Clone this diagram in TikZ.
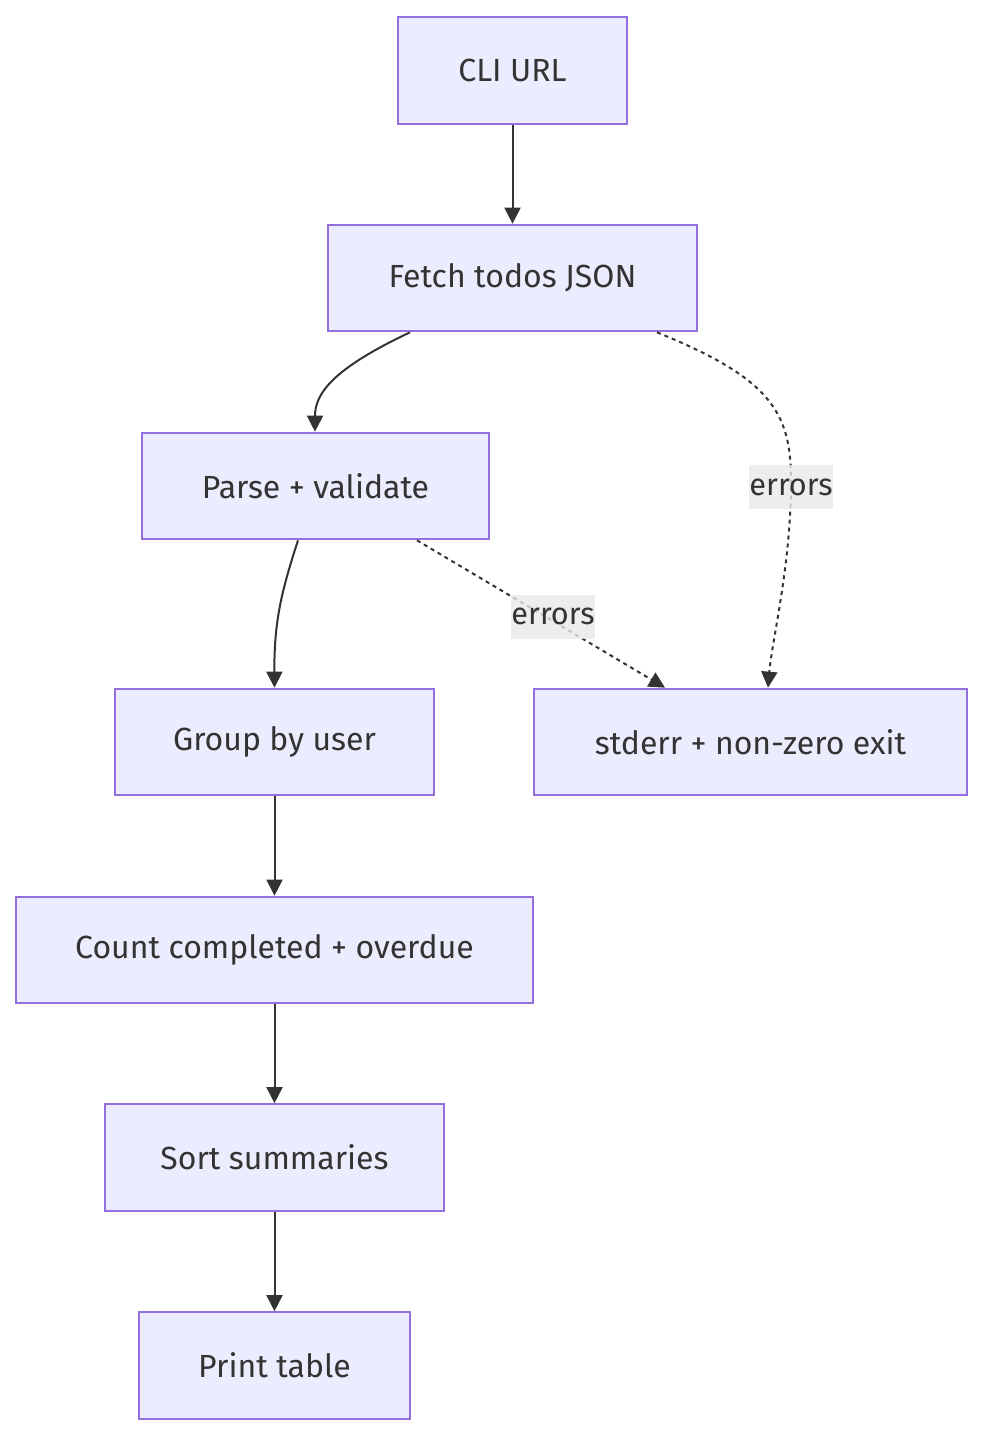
\documentclass[tikz,border=0pt]{standalone}
\usepackage{fontspec}
\setmainfont{Fira Sans}
\usetikzlibrary{arrows.meta,positioning,calc}
\definecolor{boxfill}{HTML}{ECECFF}
\definecolor{boxline}{HTML}{9370DB}
\definecolor{ink}{HTML}{333333}
\definecolor{lblfill}{HTML}{E8E8E8}

\begin{document}
\begin{tikzpicture}[x=0.75pt,y=-0.75pt,>={Triangle[length=12pt,width=12pt]},
  box/.style={draw=boxline,fill=boxfill,line width=1.5pt,minimum height=80pt,text=ink,font=\fontsize{24}{28}\selectfont},
  flow/.style={draw=ink,line width=1.5pt,->},
  errflow/.style={flow,dash pattern=on 3pt off 3pt},
  lbl/.style={fill=lblfill,fill opacity=0.8,text opacity=1,text=ink,inner xsep=0pt,minimum height=33pt,font=\fontsize{23}{27}\selectfont}]
\useasboundingbox (0,0) rectangle (983,1436);
\node[box,minimum width=171.75pt] (cli) at (512.5,70.5) {CLI URL};
\node[box,minimum width=276.75pt] (fetch) at (512.5,278) {Fetch todos JSON};
\node[box,minimum width=260.25pt] (parse) at (315.5,486) {Parse + validate};
\node[box,minimum width=239.25pt] (group) at (274.5,742) {Group by user};
\node[box,minimum width=324.75pt] (fail) at (750.5,742) {stderr + non-zero exit};
\node[box,minimum width=387.75pt] (count) at (274.5,950) {Count completed + overdue};
\node[box,minimum width=254.25pt] (sort) at (274.5,1157.5) {Sort summaries};
\node[box,minimum width=203.25pt] (print) at (274.5,1365.5) {Print table};
% main path
\draw[flow] (cli) -- (fetch);
\draw[flow] ($(fetch.south)+(-102.5,0)$) .. controls (330,370) and (315,395) .. ($(parse.north)+(-0.5,0)$);
\draw[flow] ($(parse.south)+(-17.5,0)$) .. controls (282,590) and (274,620) .. (group.north);
\draw[flow] (group) -- (count);
\draw[flow] (count) -- (sort);
\draw[flow] (sort) -- (print);
% error paths
\draw[errflow] ($(fetch.south)+(144.5,0)$) .. controls (775,380) and (792,415) .. (791,487) node[lbl] {errors}
  .. controls (790,570) and (772,640) .. ($(fail.north)+(17.5,0)$);
\draw[errflow] ($(parse.south)+(101.5,0)$) -- node[lbl,pos=0.5,xshift=9pt,yshift=-2pt] {errors} ($(fail.north)+(-85.5,0)$);
\end{tikzpicture}
\end{document}
